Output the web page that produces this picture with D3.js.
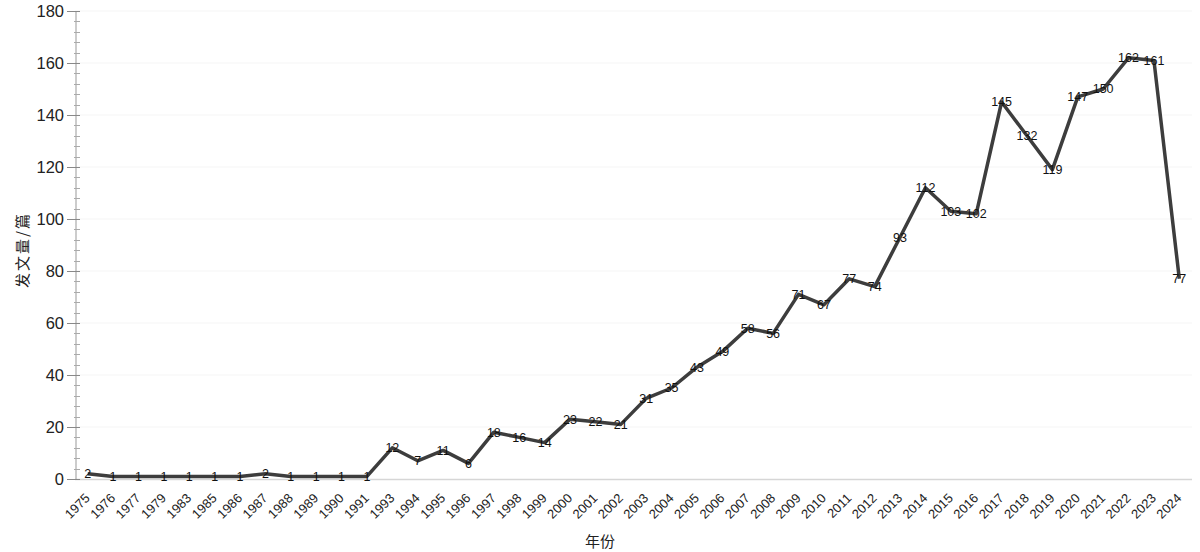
<!DOCTYPE html>
<html><head><meta charset="utf-8">
<script src="https://cdn.jsdelivr.net/npm/d3@7"></script>
<style>body{margin:0;background:#fff}</style>
</head><body>
<svg id="c" width="1200" height="552"></svg>
<script>
const years = ["1975","1976","1977","1979","1983","1985","1986","1987","1988","1989","1990","1991","1993","1994","1995","1996","1997","1998","1999","2000","2001","2002","2003","2004","2005","2006","2007","2008","2009","2010","2011","2012","2013","2014","2015","2016","2017","2018","2019","2020","2021","2022","2023","2024"];
const counts = [2,1,1,1,1,1,1,2,1,1,1,1,12,7,11,6,18,16,14,23,22,21,31,35,43,49,58,56,71,67,77,74,93,112,103,102,145,132,119,147,150,162,161,77];
const yTicks = [0,20,40,60,80,100,120,140,160,180];

const svg = d3.select("#c");
const font = "'Liberation Sans', Arial, sans-serif";
const x = d3.scaleBand().domain(years).range([75,1192]);
const y = d3.scaleLinear().domain([0,180]).range([479,11]);

// faint grid
svg.append("g").selectAll("line").data(yTicks.slice(1)).join("line")
  .attr("x1",75).attr("x2",1192).attr("y1",d=>y(d)).attr("y2",d=>y(d))
  .attr("stroke","#f5f5f5").attr("stroke-width",1);

// x axis line
svg.append("line").attr("x1",75).attr("x2",1192).attr("y1",479.5).attr("y2",479.5)
  .attr("stroke","#d6d6d6").attr("stroke-width",1.5);

// y axis
const minor = d3.range(0,181,4).filter(v=>v%20!==0);
const yg = svg.append("g");
yg.append("line").attr("x1",76).attr("x2",76).attr("y1",y(180)).attr("y2",y(0))
  .attr("stroke","#999").attr("stroke-width",1);
yg.selectAll("line.mi").data(minor).join("line").attr("class","mi")
  .attr("x1",74).attr("x2",80).attr("y1",d=>Math.round(y(d))+0.5).attr("y2",d=>Math.round(y(d))+0.5)
  .attr("stroke","#aaa");
const ya = d3.axisLeft(y).tickValues(yTicks).tickSize(0).tickPadding(12);
const yAxisG = svg.append("g").attr("transform","translate(76,0)").call(ya);
yAxisG.select(".domain").remove();
yAxisG.selectAll("text").attr("font-family",font).attr("font-size",16.5).attr("fill","#222");
yAxisG.selectAll(".tick").append("line").attr("x1",-9).attr("x2",4).attr("stroke","#888");

// x tick labels
const xa = d3.axisBottom(x).tickSize(0).tickPadding(0);
const xg = svg.append("g").attr("transform","translate(0,479)").call(xa);
xg.select(".domain").remove();
xg.selectAll("text").attr("font-family",font).attr("font-size",13).attr("fill","#222")
  .attr("text-anchor","end").attr("dy",0)
  .attr("transform","translate(3,20) rotate(-45)");

// line
const line = d3.line().x((d,i)=>x(years[i])+x.bandwidth()/2).y(d=>y(d));
svg.append("path").datum(counts).attr("d",line).attr("fill","none")
  .attr("stroke","#3d3d3d").attr("stroke-width",3.5).attr("stroke-linejoin","round");

// labels
svg.append("g").selectAll("text").data(counts).join("text")
  .attr("x",(d,i)=>x(years[i])+x.bandwidth()/2).attr("y",d=>y(d))
  .attr("dy","0.35em").attr("text-anchor","middle")
  .attr("font-family",font).attr("font-size",12.5).attr("fill","#111")
  .text(d=>d);

// axis titles
svg.append("text").attr("x",600).attr("y",547).attr("text-anchor","middle")
  .attr("font-family","'Noto Sans CJK SC', sans-serif").attr("font-size",15).attr("fill","#222").text("年份");
svg.append("text").attr("transform","translate(28,250) rotate(-90)").attr("text-anchor","middle")
  .attr("font-family","'Noto Sans CJK SC', sans-serif").attr("font-size",15).attr("letter-spacing",2).attr("fill","#222").text("发文量/篇");
</script>
</body></html>
